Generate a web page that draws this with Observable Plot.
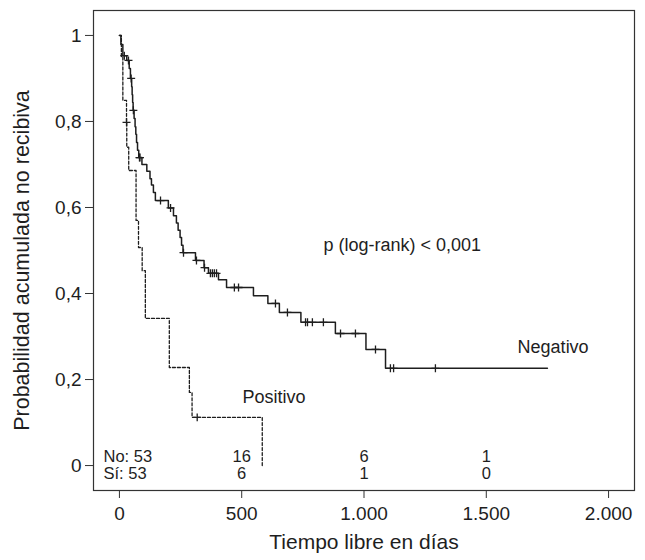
<!DOCTYPE html>
<html><head><meta charset="utf-8">
<script src="https://cdn.jsdelivr.net/npm/d3@7"></script>
<script src="https://cdn.jsdelivr.net/npm/@observablehq/plot@0.6"></script>
<style>body{margin:0;background:#fff} #chart svg{display:block}</style>
</head><body><div id="chart"></div>
<script>
// Negativo (solid) Kaplan-Meier steps
const negTimes = [0,6,14,30,40,45,50,52,54,56,60,64,67,70,74,79,92,112,125,131,139,147,200,221,233,240,248,254,260,311,346,364,405,438,548,607,654,742,883,1008,1088,1750];
const negSurv  = [1,0.979,0.953,0.942,0.923,0.900,0.881,0.862,0.844,0.826,0.807,0.788,0.770,0.751,0.733,0.716,0.700,0.684,0.667,0.652,0.635,0.616,0.599,0.581,0.564,0.547,0.530,0.512,0.495,0.477,0.460,0.447,0.432,0.414,0.395,0.377,0.356,0.333,0.307,0.270,0.226,0.226];
const negCensor = [20,37,48,57,82,84,168,209,262,315,348,372,380,388,397,470,487,638,687,761,769,789,834,904,965,1047,1108,1121,1292];
// Positivo (dashed)
const posTimes = [0,8,14,29,30,38,68,78,93,106,204,286,297,584];
const posSurv  = [1,0.95,0.849,0.798,0.740,0.686,0.570,0.507,0.453,0.342,0.228,0.170,0.112,0];
const posCensor = [29,318];
// Numbers at risk
const riskTimes = [500,1000,1500];
const riskNo = [16,6,1];
const riskSi = [6,1,0];
const riskRowLabels = ["No: 53","Sí: 53"];
// Axes
const xTicks = [0,500,1000,1500,2000];
const yTicks = [0,0.2,0.4,0.6,0.8,1];
const xTitle = "Tiempo libre en días";
const yTitle = "Probabilidad acumulada no recibiva";
const pText = "p (log-rank) < 0,001";
const groupNames = ["Negativo","Positivo"];

const survAt = (times, surv, t) => { let s = surv[0]; for (let i = 0; i < times.length; i++) if (times[i] <= t) s = surv[i]; return s; };
const negLine = negTimes.map((t,i) => ({t, s: negSurv[i]}));
const posLine = posTimes.map((t,i) => ({t, s: posSurv[i]}));
const negMarks = negCensor.map(t => ({t, s: survAt(negTimes, negSurv, t)}));
const posMarks = posCensor.map(t => ({t, s: survAt(posTimes, posSurv, t)}));
const riskRows = riskTimes.flatMap((t,i) => [{t, v: riskNo[i], row: 0}, {t, v: riskSi[i], row: 1}]);

const es = d3.formatLocale({decimal: ",", thousands: ".", grouping: [3], currency: ["",""]});
const fmtX = es.format(",d");
const fmtY = d => String(+d.toFixed(1)).replace(".", ",");
const plusSymbol = {draw(ctx, size) { const r = Math.sqrt(size) / 2; ctx.moveTo(-r, 0); ctx.lineTo(r, 0); ctx.moveTo(0, -r); ctx.lineTo(0, r); }};
const ink = "#1e1e1e";

const chart = Plot.plot({
  width: 645, height: 560,
  marginLeft: 93, marginRight: 11, marginTop: 10, marginBottom: 70,
  style: {fontFamily: "'Liberation Sans', Arial, sans-serif", fontSize: "19px", color: ink, background: "#fff"},
  x: {domain: [-106, 2106]},
  y: {domain: [-0.058, 1.058]},
  marks: [
    Plot.frame({stroke: "#333", strokeWidth: 1.2}),
    Plot.axisY({ticks: yTicks, tickSize: 8, tickPadding: 4, tickFormat: fmtY, label: null, stroke: "#333", fontSize: 19}),
    Plot.axisX({ticks: xTicks, tickSize: 8, tickPadding: 8, tickFormat: fmtX, label: null, stroke: "#333", fontSize: 19}),
    Plot.text([yTitle], {frameAnchor: "left", dx: -71, dy: 10, rotate: -90, textAnchor: "middle", fill: ink, fontSize: 21.5}),
    Plot.text([xTitle], {frameAnchor: "bottom", dy: 58, textAnchor: "middle", fill: ink, fontSize: 21}),
    Plot.line(posLine, {x: "t", y: "s", curve: "step-after", stroke: ink, strokeWidth: 1.3, strokeDasharray: "3,2"}),
    Plot.line(negLine, {x: "t", y: "s", curve: "step-after", stroke: ink, strokeWidth: 1.5}),
    Plot.dot(negMarks, {x: "t", y: "s", symbol: plusSymbol, r: 4.5, stroke: ink, fill: "none", strokeWidth: 1.3}),
    Plot.dot(posMarks, {x: "t", y: "s", symbol: plusSymbol, r: 4.5, stroke: ink, fill: "none", strokeWidth: 1.3}),
    Plot.text([pText], {x: 834, y: 0.512, textAnchor: "start", fill: ink, fontSize: 18}),
    Plot.text([groupNames[0]], {x: 1628, y: 0.274, textAnchor: "start", fill: ink, fontSize: 18}),
    Plot.text([groupNames[1]], {x: 503, y: 0.158, textAnchor: "start", fill: ink, fontSize: 18}),
    Plot.text([riskRowLabels[0]], {frameAnchor: "left", y: 0, dx: 10, dy: -8.5, textAnchor: "start", fill: ink, fontSize: 16.5}),
    Plot.text([riskRowLabels[1]], {frameAnchor: "left", y: 0, dx: 10, dy: 8.5, textAnchor: "start", fill: ink, fontSize: 16.5}),
    Plot.text(riskRows.filter(d => d.row === 0), {x: "t", y: 0, text: "v", dy: -8.5, fill: ink, fontSize: 16.5}),
    Plot.text(riskRows.filter(d => d.row === 1), {x: "t", y: 0, text: "v", dy: 8.5, fill: ink, fontSize: 16.5})
  ]
});
document.getElementById("chart").append(chart);
</script>
</body></html>
